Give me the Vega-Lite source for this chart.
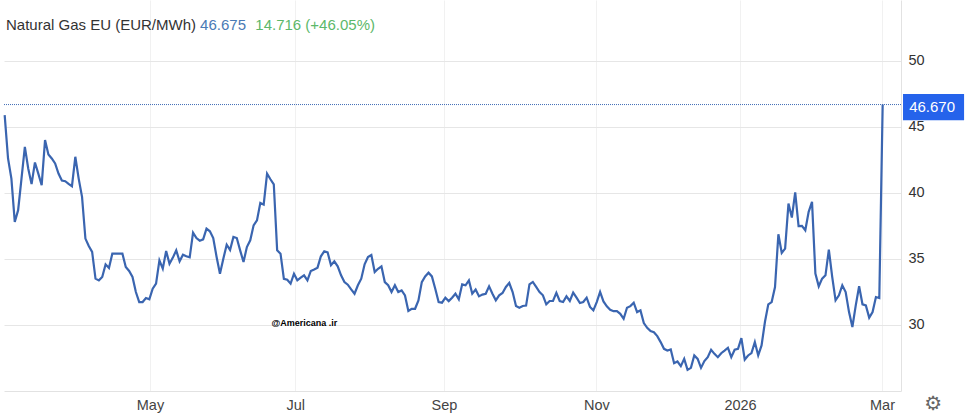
{
  "$schema": "https://vega.github.io/schema/vega-lite/v6.json",
  "autosize": "none",
  "padding": {"left": 4, "top": 0, "right": 64, "bottom": 25},
  "width": 897,
  "height": 391,
  "background": "white",
  "config": {
    "view": {"stroke": null},
    "font": "Liberation Sans"
  },
  "data": {"values": [
    {"session":0,"price":45.87},{"session":1,"price":42.59},{"session":2,"price":41.07},{"session":3,"price":37.79},{"session":4,"price":38.68},{"session":5,"price":41.07},{"session":6,"price":43.47},{"session":7,"price":41.83},{"session":8,"price":40.65},{"session":9,"price":42.29},
    {"session":10,"price":41.45},{"session":11,"price":40.57},{"session":12,"price":43.98},{"session":13,"price":42.89},{"session":14,"price":42.59},{"session":15,"price":42.21},{"session":16,"price":41.45},{"session":17,"price":40.92},{"session":18,"price":40.87},{"session":19,"price":40.67},
    {"session":20,"price":40.49},{"session":21,"price":42.72},{"session":22,"price":41.07},{"session":23,"price":39.69},{"session":24,"price":36.53},{"session":25,"price":35.97},{"session":26,"price":35.52},{"session":27,"price":33.5},{"session":28,"price":33.37},{"session":29,"price":33.63},
    {"session":30,"price":34.58},{"session":31,"price":34.31},{"session":32,"price":35.39},{"session":33,"price":35.39},{"session":34,"price":35.39},{"session":35,"price":35.39},{"session":36,"price":34.38},{"session":37,"price":34.08},{"session":38,"price":33.63},{"session":39,"price":32.49},
    {"session":40,"price":31.73},{"session":41,"price":31.73},{"session":42,"price":32.03},{"session":43,"price":31.93},{"session":44,"price":32.74},{"session":45,"price":33.12},{"session":46,"price":34.88},{"session":47,"price":34.25},{"session":48,"price":35.59},{"session":49,"price":34.63},
    {"session":50,"price":35.09},{"session":51,"price":35.64},{"session":52,"price":34.81},{"session":53,"price":35.31},{"session":54,"price":35.19},{"session":55,"price":35.11},{"session":56,"price":36.98},{"session":57,"price":36.57},{"session":58,"price":36.37},{"session":59,"price":36.47},
    {"session":60,"price":37.28},{"session":61,"price":37.08},{"session":62,"price":36.57},{"session":63,"price":35.14},{"session":64,"price":33.87},{"session":65,"price":35.01},{"session":66,"price":36.07},{"session":67,"price":35.67},{"session":68,"price":36.65},{"session":69,"price":36.57},
    {"session":70,"price":35.64},{"session":71,"price":34.76},{"session":72,"price":35.89},{"session":73,"price":36.4},{"session":74,"price":37.53},{"session":75,"price":37.91},{"session":76,"price":39.23},{"session":77,"price":39.1},{"session":78,"price":41.45},{"session":79,"price":41.02},
    {"session":80,"price":40.64},{"session":81,"price":35.64},{"session":82,"price":35.39},{"session":83,"price":33.49},{"session":84,"price":33.42},{"session":85,"price":33.12},{"session":86,"price":33.87},{"session":87,"price":33.37},{"session":88,"price":33.57},{"session":89,"price":33.75},
    {"session":90,"price":33.37},{"session":91,"price":34.08},{"session":92,"price":34.2},{"session":93,"price":34.33},{"session":94,"price":35.19},{"session":95,"price":35.57},{"session":96,"price":35.49},{"session":97,"price":34.51},{"session":98,"price":34.81},{"session":99,"price":34.43},
    {"session":100,"price":33.75},{"session":101,"price":33.24},{"session":102,"price":33.04},{"session":103,"price":32.69},{"session":104,"price":32.36},{"session":105,"price":33.0},{"session":106,"price":33.5},{"session":107,"price":34.58},{"session":108,"price":35.14},{"session":109,"price":35.29},
    {"session":110,"price":34.0},{"session":111,"price":34.25},{"session":112,"price":34.43},{"session":113,"price":33.24},{"session":114,"price":33.0},{"session":115,"price":32.49},{"session":116,"price":33.0},{"session":117,"price":32.49},{"session":118,"price":32.61},{"session":119,"price":32.23},
    {"session":120,"price":31.05},{"session":121,"price":31.22},{"session":122,"price":31.22},{"session":123,"price":31.85},{"session":124,"price":33.24},{"session":125,"price":33.67},{"session":126,"price":33.95},{"session":127,"price":33.67},{"session":128,"price":32.74},{"session":129,"price":31.73},
    {"session":130,"price":31.68},{"session":131,"price":32.06},{"session":132,"price":31.8},{"session":133,"price":32.06},{"session":134,"price":32.36},{"session":135,"price":31.94},{"session":136,"price":33.07},{"session":137,"price":33.0},{"session":138,"price":33.37},{"session":139,"price":32.36},
    {"session":140,"price":32.67},{"session":141,"price":32.16},{"session":142,"price":32.29},{"session":143,"price":32.36},{"session":144,"price":32.92},{"session":145,"price":32.36},{"session":146,"price":31.86},{"session":147,"price":32.24},{"session":148,"price":32.42},{"session":149,"price":32.87},
    {"session":150,"price":33.17},{"session":151,"price":32.49},{"session":152,"price":31.43},{"session":153,"price":31.3},{"session":154,"price":31.43},{"session":155,"price":31.46},{"session":156,"price":33.07},{"session":157,"price":33.25},{"session":158,"price":32.87},{"session":159,"price":32.49},
    {"session":160,"price":32.24},{"session":161,"price":31.56},{"session":162,"price":31.81},{"session":163,"price":31.81},{"session":164,"price":32.42},{"session":165,"price":31.81},{"session":166,"price":31.73},{"session":167,"price":32.16},{"session":168,"price":31.81},{"session":169,"price":32.44},
    {"session":170,"price":32.06},{"session":171,"price":31.66},{"session":172,"price":31.73},{"session":173,"price":32.06},{"session":174,"price":31.36},{"session":175,"price":31.1},{"session":176,"price":31.73},{"session":177,"price":32.5},{"session":178,"price":31.78},{"session":179,"price":31.4},
    {"session":180,"price":31.15},{"session":181,"price":31.04},{"session":182,"price":31.04},{"session":183,"price":30.84},{"session":184,"price":30.46},{"session":185,"price":31.3},{"session":186,"price":31.42},{"session":187,"price":31.68},{"session":188,"price":30.97},{"session":189,"price":31.1},
    {"session":190,"price":30.14},{"session":191,"price":29.78},{"session":192,"price":29.53},{"session":193,"price":29.45},{"session":194,"price":29.15},{"session":195,"price":28.7},{"session":196,"price":28.19},{"session":197,"price":28.06},{"session":198,"price":28.14},{"session":199,"price":27.1},
    {"session":200,"price":27.23},{"session":201,"price":26.88},{"session":202,"price":27.43},{"session":203,"price":26.6},{"session":204,"price":26.75},{"session":205,"price":27.69},{"session":206,"price":27.43},{"session":207,"price":26.75},{"session":208,"price":27.26},{"session":209,"price":27.56},
    {"session":210,"price":28.12},{"session":211,"price":27.81},{"session":212,"price":27.56},{"session":213,"price":27.86},{"session":214,"price":28.06},{"session":215,"price":28.27},{"session":216,"price":27.56},{"session":217,"price":28.12},{"session":218,"price":28.19},{"session":219,"price":29.0},
    {"session":220,"price":27.38},{"session":221,"price":27.69},{"session":222,"price":27.87},{"session":223,"price":28.7},{"session":224,"price":27.69},{"session":225,"price":28.45},{"session":226,"price":30.22},{"session":227,"price":31.56},{"session":228,"price":31.73},{"session":229,"price":32.87},
    {"session":230,"price":36.86},{"session":231,"price":35.45},{"session":232,"price":35.77},{"session":233,"price":39.18},{"session":234,"price":38.12},{"session":235,"price":40.02},{"session":236,"price":37.47},{"session":237,"price":37.49},{"session":238,"price":37.16},{"session":239,"price":38.55},
    {"session":240,"price":39.31},{"session":241,"price":33.88},{"session":242,"price":32.92},{"session":243,"price":33.5},{"session":244,"price":33.75},{"session":245,"price":35.7},{"session":246,"price":33.63},{"session":247,"price":31.86},{"session":248,"price":32.24},{"session":249,"price":33.0},
    {"session":250,"price":32.49},{"session":251,"price":30.97},{"session":252,"price":29.84},{"session":253,"price":31.48},{"session":254,"price":32.92},{"session":255,"price":31.56},{"session":256,"price":31.48},{"session":257,"price":30.55},{"session":258,"price":30.97},{"session":259,"price":32.11},
    {"session":260,"price":32.04},{"session":261,"price":46.67}
  ]},
  "encoding": {
    "x": {
      "field": "session",
      "type": "quantitative",
      "scale": {"domain": [-0.2, 266.45], "nice": false, "zero": false},
      "axis": {
        "title": null,
        "values": [43.2, 86.4, 130.6, 175.9, 218.6, 260.8],
        "labelExpr": "datum.value < 50 ? 'May' : datum.value < 90 ? 'Jul' : datum.value < 140 ? 'Sep' : datum.value < 180 ? 'Nov' : datum.value < 220 ? '2026' : 'Mar'",
        "labelFontSize": 14.5,
        "labelColor": "#444444",
        "labelPadding": 7,
        "labelOverlap": false,
        "labelFlush": false,
        "ticks": false,
        "grid": true,
        "gridColor": "#f1f1f1",
        "domainColor": "#e2e2e2"
      }
    },
    "y": {
      "field": "price",
      "type": "quantitative",
      "scale": {"domain": [25, 54.58], "nice": false, "zero": false},
      "axis": {
        "title": null,
        "orient": "right",
        "values": [30, 35, 40, 45, 50],
        "labelFontSize": 14.5,
        "labelColor": "#333333",
        "labelPadding": 7,
        "ticks": false,
        "grid": true,
        "gridColor": "#e6e6e6",
        "domainColor": "#e2e2e2"
      }
    }
  },
  "layer": [
    {
      "transform": [{"filter": "datum.session == 261"}],
      "mark": {"type": "rule", "color": "#3f6cb5", "strokeDash": [1, 1], "strokeWidth": 1},
      "encoding": {"x": {"value": 0}, "x2": {"value": 897}}
    },
    {
      "mark": {"type": "line", "color": "#3a65b0", "strokeWidth": 2.2, "interpolate": "linear"}
    },
    {
      "transform": [{"filter": "datum.session == 261"}],
      "mark": {"type": "rect", "color": "#2563eb"},
      "encoding": {
        "x": {"datum": 267.05},
        "x2": {"datum": 285.2},
        "y": {"datum": 47.46},
        "y2": {"datum": 45.49}
      }
    },
    {
      "transform": [{"filter": "datum.session == 261"}],
      "mark": {"type": "text", "color": "white", "fontSize": 15, "align": "center", "baseline": "middle"},
      "encoding": {
        "x": {"datum": 275.7},
        "y": {"datum": 46.48},
        "text": {"value": "46.670"}
      }
    },
    {
      "transform": [{"filter": "datum.session == 261"}],
      "mark": {"type": "text", "color": "#333333", "fontSize": 15, "align": "left", "baseline": "middle"},
      "encoding": {
        "x": {"datum": 0.39},
        "y": {"datum": 52.69},
        "text": {"value": "Natural Gas EU (EUR/MWh)"}
      }
    },
    {
      "transform": [{"filter": "datum.session == 261"}],
      "mark": {"type": "text", "color": "#4a7ab5", "fontSize": 15, "align": "left", "baseline": "middle"},
      "encoding": {
        "x": {"datum": 58.1},
        "y": {"datum": 52.69},
        "text": {"value": "46.675"}
      }
    },
    {
      "transform": [{"filter": "datum.session == 261"}],
      "mark": {"type": "text", "color": "#5cb86a", "fontSize": 15, "align": "left", "baseline": "middle"},
      "encoding": {
        "x": {"datum": 74.5},
        "y": {"datum": 52.69},
        "text": {"value": "14.716 (+46.05%)"}
      }
    },
    {
      "transform": [{"filter": "datum.session == 261"}],
      "mark": {"type": "text", "color": "black", "fontSize": 9, "fontWeight": "bold", "align": "left", "baseline": "middle"},
      "encoding": {
        "x": {"datum": 79.3},
        "y": {"datum": 30.11},
        "text": {"value": "@Americana .ir"}
      }
    },
    {
      "transform": [{"filter": "datum.session == 261"}],
      "mark": {"type": "text", "color": "#666666", "font": "DejaVu Sans", "fontSize": 20, "align": "center", "baseline": "middle"},
      "encoding": {
        "x": {"datum": 276},
        "y": {"datum": 23.98},
        "text": {"value": "⚙"}
      }
    }
  ]
}
